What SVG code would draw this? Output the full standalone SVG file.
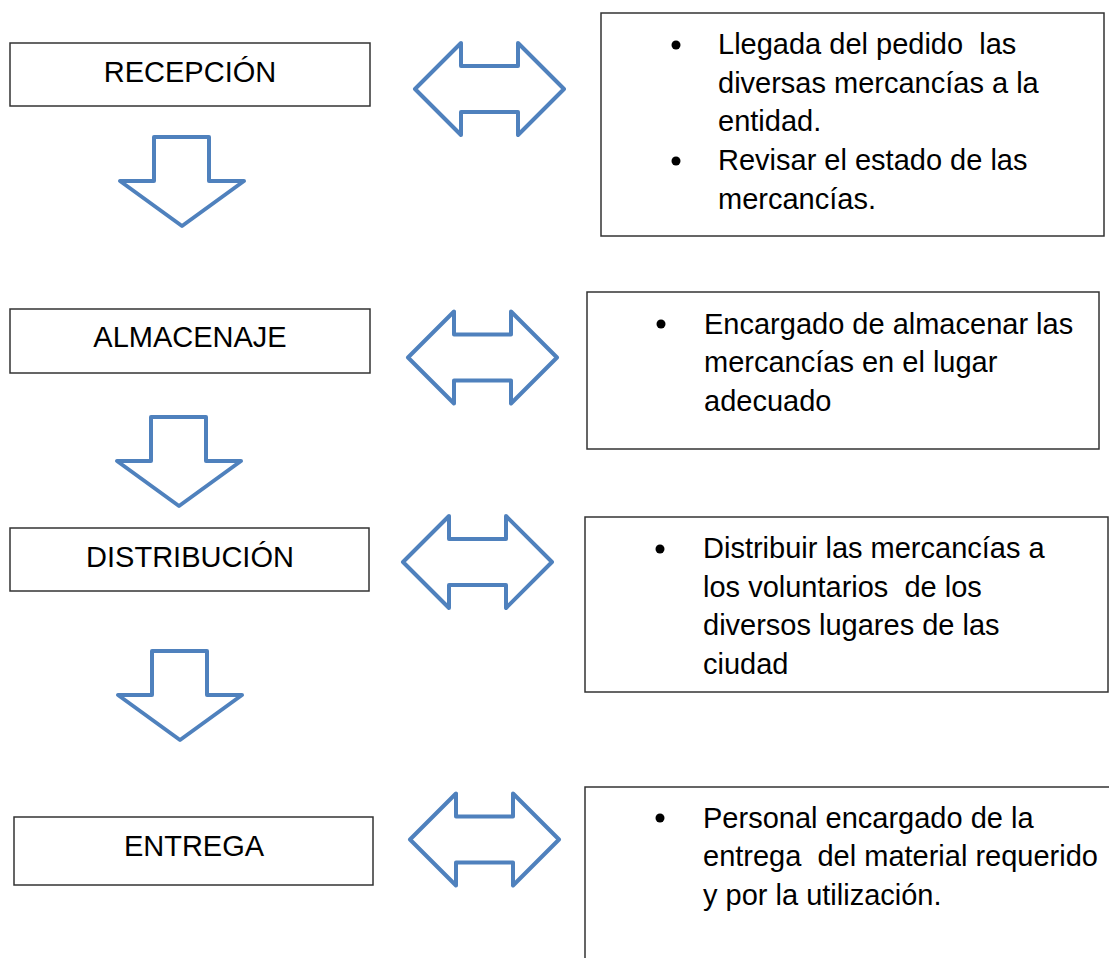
<svg xmlns="http://www.w3.org/2000/svg" width="1109" height="958" viewBox="0 0 1109 958">
<style>
.box{fill:#fff;stroke:#333;stroke-width:1.5}
.arr{fill:#fff;stroke:#4F81BD;stroke-width:4;stroke-linejoin:round}
text{font-family:"Liberation Sans",Arial,sans-serif;font-size:29px;fill:#000;white-space:pre}
.c{text-anchor:middle}
.dot{fill:#000}
</style>
<defs>
<path id="dbl" d="M0,0 L46,-46 L46,-23 L103,-23 L103,-46 L149,0 L103,46 L103,23 L46,23 L46,46 Z"/>
<path id="down" d="M34,0 L89,0 L89,44 L124,44 L62,89 L0,44 L34,44 Z"/>
</defs>
<rect width="1109" height="958" fill="#fff"/>

<g id="recepcion">
<rect class="box" x="10" y="43" width="360" height="63"/>
<text class="c" x="190" y="82">RECEPCIÓN</text>
</g>
<g id="almacenaje">
<rect class="box" x="10" y="309" width="360" height="64"/>
<text class="c" x="190" y="347">ALMACENAJE</text>
</g>
<g id="distribucion">
<rect class="box" x="10" y="528" width="359" height="63"/>
<text class="c" x="190" y="567">DISTRIBUCIÓN</text>
</g>
<g id="entrega">
<rect class="box" x="14" y="817" width="359" height="68"/>
<text class="c" x="194" y="856">ENTREGA</text>
</g>

<g id="desc-recepcion">
<rect class="box" x="601" y="13" width="503" height="223"/>
<circle class="dot" cx="676" cy="45" r="4.5"/>
<text x="718" y="54">Llegada del pedido  las</text>
<text x="718" y="93">diversas mercancías a la</text>
<text x="718" y="131">entidad.</text>
<circle class="dot" cx="676" cy="161" r="4.5"/>
<text x="718" y="170">Revisar el estado de las</text>
<text x="718" y="209">mercancías.</text>
</g>
<g id="desc-almacenaje">
<rect class="box" x="587" y="292" width="512" height="157"/>
<circle class="dot" cx="661" cy="324" r="4.5"/>
<text x="704" y="334">Encargado de almacenar las</text>
<text x="704" y="372">mercancías en el lugar</text>
<text x="704" y="411">adecuado</text>
</g>
<g id="desc-distribucion">
<rect class="box" x="585" y="517" width="523" height="175"/>
<circle class="dot" cx="660" cy="549" r="4.5"/>
<text x="703" y="558">Distribuir las mercancías a</text>
<text x="703" y="597">los voluntarios  de los</text>
<text x="703" y="635">diversos lugares de las</text>
<text x="703" y="674">ciudad</text>
</g>
<g id="desc-entrega">
<rect class="box" x="585" y="787" width="540" height="200"/>
<circle class="dot" cx="660" cy="818" r="4.5"/>
<text x="703" y="828">Personal encargado de la</text>
<text x="703" y="866">entrega  del material requerido</text>
<text x="703" y="905">y por la utilización.</text>
</g>

<g id="connectors">
<use href="#dbl" class="arr" transform="translate(415,89)"/>
<use href="#dbl" class="arr" transform="translate(408,357.5)"/>
<use href="#dbl" class="arr" transform="translate(403,562)"/>
<use href="#dbl" class="arr" transform="translate(410,839.5)"/>
<use href="#down" class="arr" transform="translate(120,137)"/>
<use href="#down" class="arr" transform="translate(117,417)"/>
<use href="#down" class="arr" transform="translate(118,651)"/>
</g>
</svg>
